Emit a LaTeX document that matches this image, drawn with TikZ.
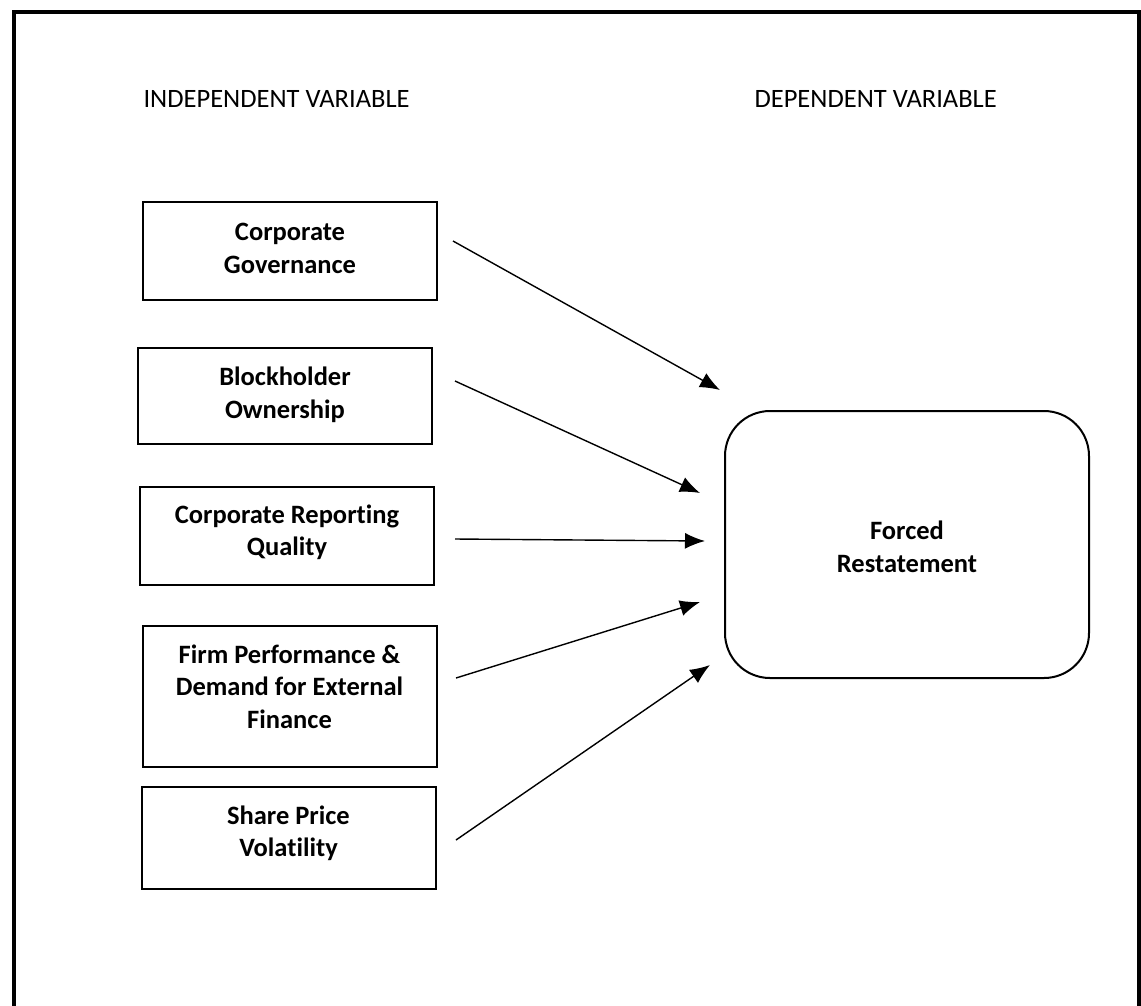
\documentclass[tikz,border=0pt]{standalone}
\usepackage{fontspec}
\setmainfont{Carlito}[Ligatures=NoCommon]
\usetikzlibrary{arrows.meta}
\begin{document}
\begin{tikzpicture}[x=1pt,y=-1pt,
  ivbox/.style={draw,line width=2pt,minimum width=294pt,inner sep=0pt},
  dvbox/.style={draw,line width=2pt,rounded corners=45pt,inner sep=0pt},
  boxtxt/.style={align=center,inner sep=0pt,font=\fontsize{26.5}{32.5}\selectfont\bfseries},
  hdr/.style={anchor=west,font=\fontsize{26.5}{30}\selectfont},
  arr/.style={-{Latex[length=20pt,width=16pt]},line width=1.4pt}]
\useasboundingbox (0,0) rectangle (1141,1005);
\draw[line width=4pt] (14,1010) -- (14,12) -- (1139,12) -- (1139,1010);
\node[hdr] (iv) at (140,99) {INDEPENDENT VARIABLE};
\node[hdr] (dv) at (751,99) {DEPENDENT VARIABLE};
\node[ivbox,minimum height=98pt] (b1) at (290,251) {};
\node[ivbox,minimum height=96pt] (b2) at (285,396) {};
\node[ivbox,minimum height=98pt] (b3) at (287,536) {};
\node[ivbox,minimum height=141pt] (b4) at (289.5,696.5) {};
\node[ivbox,minimum height=102pt] (b5) at (288.5,838) {};
\node[dvbox,minimum width=364pt,minimum height=267pt] (fr) at (907,544.5) {};
\node[boxtxt] (t1) at ([yshift=2.5pt]b1.center) {Corporate\\Governance};
\node[boxtxt] (t2) at ([yshift=1pt]b2.center) {Blockholder\\Ownership};
\node[boxtxt] (t3) at ([yshift=3.5pt]b3.center) {Corporate Reporting\\Quality};
\node[boxtxt] (t4) at ([yshift=10pt]b4.center) {Firm Performance \&\\Demand for External\\Finance};
\node[boxtxt] (t5) at ([yshift=4.5pt]b5.center) {Share Price\\Volatility};
\node[boxtxt] (t6) at ([yshift=-2.5pt]fr.center) {Forced\\Restatement};
\coordinate (e1) at (720,390);
\coordinate (e2) at (700,493);
\coordinate (e3) at (705,541);
\coordinate (e4) at (700,602);
\coordinate (e5) at (710,665);
\coordinate (s1) at (453,241);
\coordinate (s2) at (455,381);
\coordinate (s3) at (455,539);
\coordinate (s4) at (456,678);
\coordinate (s5) at (456,840);
\draw[arr] (s1) -- (e1);
\draw[arr] (s2) -- (e2);
\draw[arr] (s3) -- (e3);
\draw[arr] (s4) -- (e4);
\draw[arr] (s5) -- (e5);
\end{tikzpicture}
\end{document}
